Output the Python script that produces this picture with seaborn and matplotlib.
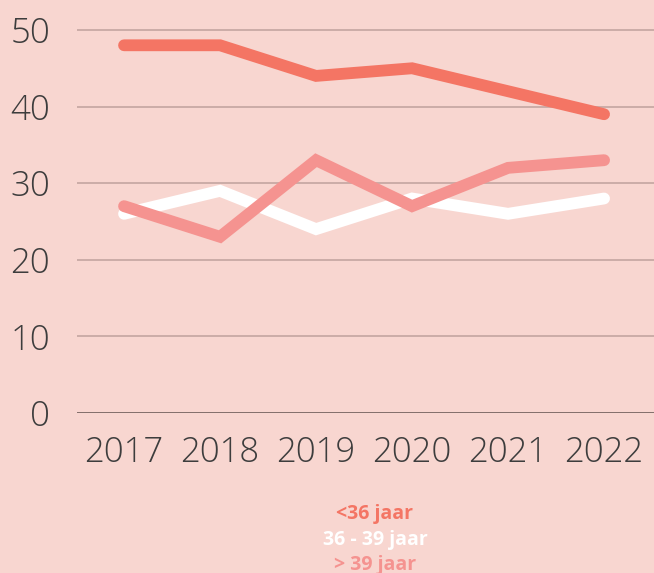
import matplotlib
matplotlib.use("Agg")
import matplotlib.pyplot as plt
import seaborn as sns
import pandas as pd

years = ["2017", "2018", "2019", "2020", "2021", "2022"]
under36 = [48, 48, 44, 45, 42, 39]
mid36_39 = [26, 29, 24, 28, 26, 28]
over39 = [27, 23, 33, 27, 32, 33]
series_names = ["<36 jaar", "36 - 39 jaar", "> 39 jaar"]
y_ticks = [0, 10, 20, 30, 40, 50]

BG = "#f8d6d0"
colors = {"<36 jaar": "#f47564", "36 - 39 jaar": "#ffffff", "> 39 jaar": "#f59390"}

rows = []
for name, vals in zip(series_names, [under36, mid36_39, over39]):
    for i, (y, v) in enumerate(zip(years, vals)):
        rows.append({"idx": i, "year": y, "value": v, "series": name})
df = pd.DataFrame(rows)

sns.set_theme(style="white")
plt.rcParams["font.family"] = ["Open Sans", "DejaVu Sans"]

fig = plt.figure(figsize=(6.54, 5.73), dpi=100, facecolor=BG)
ax = fig.add_axes([77/654, 1 - 413/573, (654-77)/654, (413-20)/573])
ax.set_facecolor(BG)

ax.set_axisbelow(True)
for t in y_ticks:
    ax.axhline(t, color="#6e5d5a" if t == 0 else "#c4a5a0", lw=1.2, zorder=0)

order = ["36 - 39 jaar", "> 39 jaar", "<36 jaar"]
for name in order:
    sub = df[df.series == name]
    sns.lineplot(data=sub, x="idx", y="value", ax=ax, color=colors[name],
                 linewidth=8.5, solid_capstyle="round", solid_joinstyle="miter",
                 legend=False, zorder=3)

ax.set_xlim(-0.49, 5.52)
ax.set_ylim(0, 51.3)
ax.set_xticks(range(len(years)))
ax.set_xticklabels(years)
ax.set_yticks(y_ticks)
ax.set_xlabel("")
ax.set_ylabel("")
for s in ax.spines.values():
    s.set_visible(False)
ax.tick_params(axis="both", length=0, labelsize=25, labelcolor="#3d3d3d")
ax.tick_params(axis="x", pad=16)
ax.tick_params(axis="y", pad=19.5)
for lab in ax.get_xticklabels() + ax.get_yticklabels():
    lab.set_fontweight("light")

legend_y = [514, 540, 565]
for name, yy in zip(series_names, legend_y):
    fig.text(375/654, 1 - yy/573, name, ha="center", va="center",
             fontsize=14, fontweight="bold", color=colors[name])

fig.savefig("out.png", dpi=100, facecolor=BG)
